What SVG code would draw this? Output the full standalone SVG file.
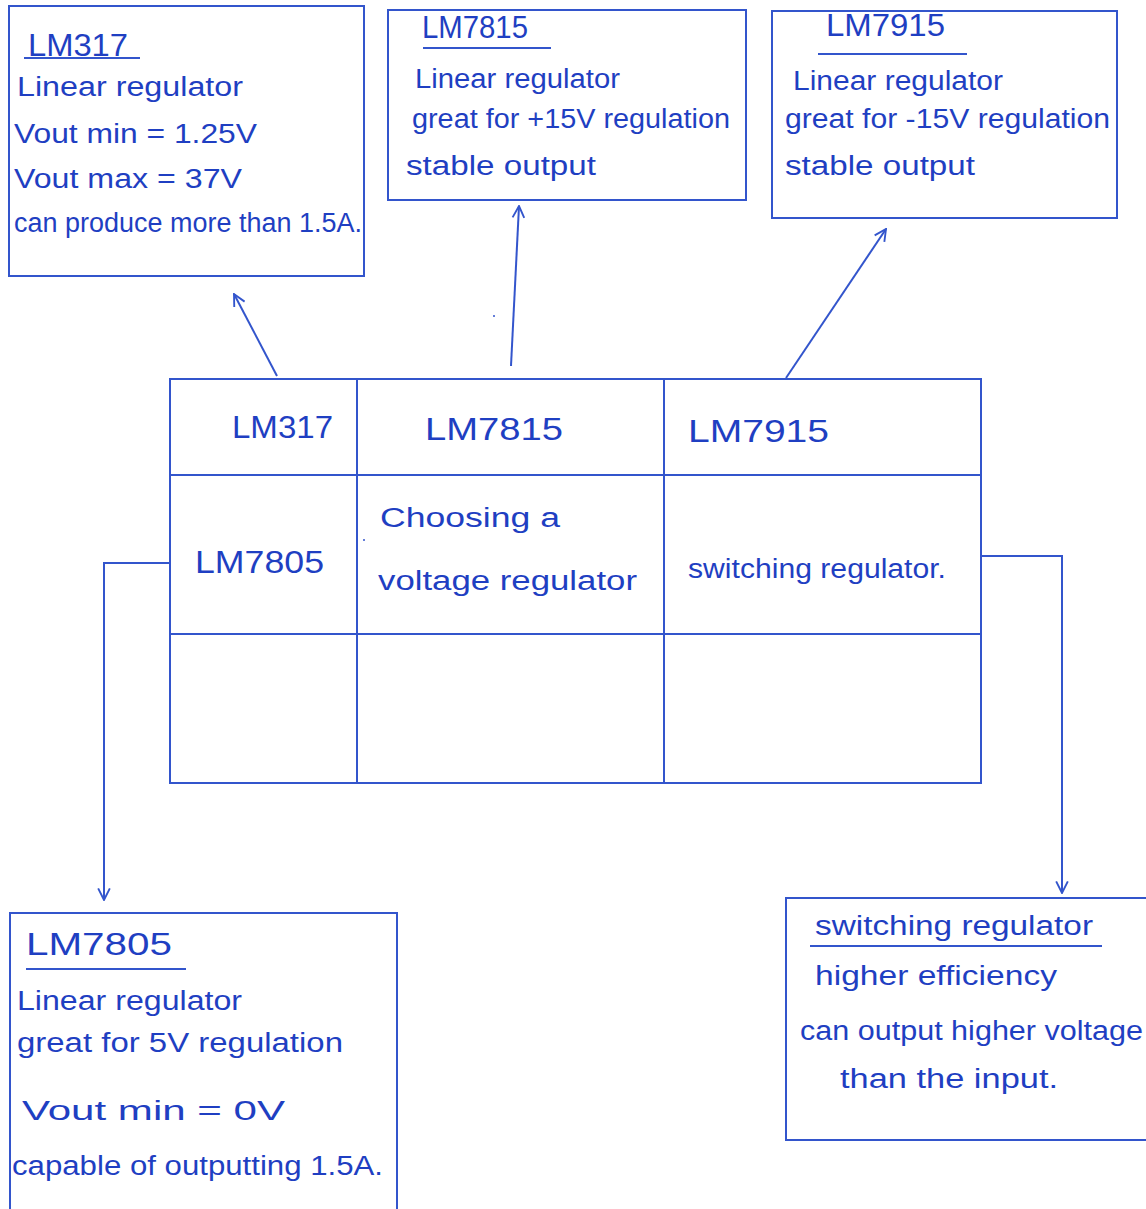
<svg xmlns="http://www.w3.org/2000/svg" width="1146" height="1209" viewBox="0 0 1146 1209">
<defs>
<style>
.box{fill:none;stroke:#3355cc;stroke-width:2}
.ln{fill:none;stroke:#3355cc;stroke-width:2}
.t{font-family:"Liberation Sans","DejaVu Sans",sans-serif;font-size:27px;fill:#1f3fc2;lengthAdjust:spacingAndGlyphs}
.h{font-size:32px}
</style>
<marker id="ah" viewBox="0 0 12 12" refX="11" refY="6" markerWidth="14" markerHeight="14" markerUnits="userSpaceOnUse" orient="auto">
<path d="M1,1 L11,6 L1,11" fill="none" stroke="#3355cc" stroke-width="1.6"/>
</marker>
</defs>
<rect width="1146" height="1209" fill="#ffffff"/>

<g id="connectors">
<line class="ln" x1="277" y1="376" x2="234" y2="294" marker-end="url(#ah)"/>
<line class="ln" x1="511" y1="366" x2="519" y2="206" marker-end="url(#ah)"/>
<line class="ln" x1="786" y1="378" x2="886" y2="229" marker-end="url(#ah)"/>
<polyline class="ln" points="170,563 104,563 104,900" marker-end="url(#ah)"/>
<polyline class="ln" points="981,556 1062,556 1062,893" marker-end="url(#ah)"/>
</g>

<g id="lm317-box">
<rect class="box" x="9" y="6" width="355" height="270"/>
<text class="t h" x="28" y="56" textLength="100" lengthAdjust="spacingAndGlyphs">LM317</text>
<line class="ln" x1="24" y1="58" x2="140" y2="58"/>
<text class="t" x="17" y="96" textLength="226" lengthAdjust="spacingAndGlyphs">Linear regulator</text>
<text class="t" x="14" y="143" textLength="243" lengthAdjust="spacingAndGlyphs">Vout min = 1.25V</text>
<text class="t" x="14" y="188" textLength="228" lengthAdjust="spacingAndGlyphs">Vout max = 37V</text>
<text class="t" x="14" y="232" textLength="348" lengthAdjust="spacingAndGlyphs">can produce more than 1.5A.</text>
</g>

<g id="lm7815-box">
<rect class="box" x="388" y="10" width="358" height="190"/>
<text class="t h" x="422" y="38" textLength="106" lengthAdjust="spacingAndGlyphs">LM7815</text>
<line class="ln" x1="423" y1="48" x2="551" y2="48"/>
<text class="t" x="415" y="88" textLength="205" lengthAdjust="spacingAndGlyphs">Linear regulator</text>
<text class="t" x="412" y="128" textLength="318" lengthAdjust="spacingAndGlyphs">great for +15V regulation</text>
<text class="t" x="406" y="175" textLength="190" lengthAdjust="spacingAndGlyphs">stable output</text>
</g>

<g id="lm7915-box">
<rect class="box" x="772" y="11" width="345" height="207"/>
<text class="t h" x="826" y="36" textLength="119" lengthAdjust="spacingAndGlyphs">LM7915</text>
<line class="ln" x1="818" y1="54" x2="967" y2="54"/>
<text class="t" x="793" y="90" textLength="210" lengthAdjust="spacingAndGlyphs">Linear regulator</text>
<text class="t" x="785" y="128" textLength="325" lengthAdjust="spacingAndGlyphs">great for -15V regulation</text>
<text class="t" x="785" y="175" textLength="190" lengthAdjust="spacingAndGlyphs">stable output</text>
</g>

<g id="table">
<rect class="box" x="170" y="379" width="811" height="404"/>
<line class="ln" x1="357" y1="379" x2="357" y2="783"/>
<line class="ln" x1="664" y1="379" x2="664" y2="783"/>
<line class="ln" x1="170" y1="475" x2="981" y2="475"/>
<line class="ln" x1="170" y1="634" x2="981" y2="634"/>
<text class="t h" x="232" y="438" textLength="101" lengthAdjust="spacingAndGlyphs">LM317</text>
<text class="t h" x="425" y="440" textLength="138" lengthAdjust="spacingAndGlyphs">LM7815</text>
<text class="t h" x="688" y="442" textLength="141" lengthAdjust="spacingAndGlyphs">LM7915</text>
<text class="t h" x="195" y="573" textLength="129" lengthAdjust="spacingAndGlyphs">LM7805</text>
<text class="t" x="380" y="527" textLength="180" lengthAdjust="spacingAndGlyphs">Choosing    a</text>
<text class="t" x="378" y="590" textLength="259" lengthAdjust="spacingAndGlyphs">voltage regulator</text>
<text class="t" x="688" y="578" textLength="258" lengthAdjust="spacingAndGlyphs">switching regulator.</text>
<circle cx="364" cy="540" r="1" fill="#3355cc"/>
<circle cx="494" cy="316" r="1" fill="#3355cc"/>
</g>

<g id="lm7805-box">
<rect class="box" x="10" y="913" width="387" height="300"/>
<text class="t h" x="26" y="955" textLength="146" lengthAdjust="spacingAndGlyphs">LM7805</text>
<line class="ln" x1="26" y1="969" x2="186" y2="969"/>
<text class="t" x="17" y="1010" textLength="225" lengthAdjust="spacingAndGlyphs">Linear regulator</text>
<text class="t" x="17" y="1052" textLength="326" lengthAdjust="spacingAndGlyphs">great for 5V regulation</text>
<text class="t" x="22" y="1120" textLength="263" lengthAdjust="spacingAndGlyphs">Vout min  =  0V</text>
<text class="t" x="12" y="1175" textLength="371" lengthAdjust="spacingAndGlyphs">capable of outputting 1.5A.</text>
</g>

<g id="switching-box">
<rect class="box" x="786" y="898" width="362" height="242"/>
<text class="t" x="815" y="935" textLength="278" lengthAdjust="spacingAndGlyphs">switching regulator</text>
<line class="ln" x1="810" y1="946" x2="1102" y2="946"/>
<text class="t" x="815" y="985" textLength="242" lengthAdjust="spacingAndGlyphs">higher efficiency</text>
<text class="t" x="800" y="1040" textLength="343" lengthAdjust="spacingAndGlyphs">can output higher voltage</text>
<text class="t" x="840" y="1088" textLength="218" lengthAdjust="spacingAndGlyphs">than the input.</text>
</g>
</svg>
